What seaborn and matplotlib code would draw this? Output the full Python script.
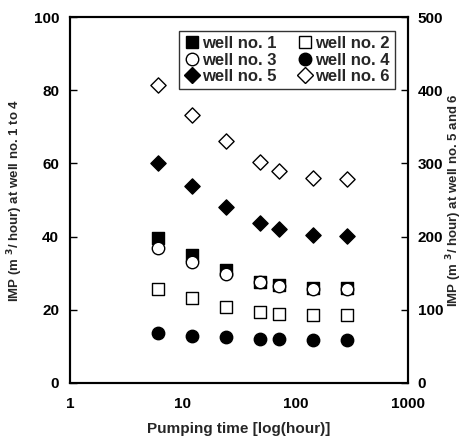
import matplotlib
matplotlib.use("Agg")
import matplotlib.pyplot as plt
import matplotlib.ticker as ticker
from matplotlib.lines import Line2D
import seaborn as sns
import pandas as pd

#%% Data
hours = [6, 12, 24, 48, 72, 144, 288]
well_1 = [39.7, 35.0, 31.0, 27.6, 26.8, 26.0, 26.0]
well_2 = [25.6, 23.1, 20.9, 19.4, 18.9, 18.5, 18.5]
well_3 = [36.8, 33.0, 29.7, 27.5, 26.5, 25.7, 25.7]
well_4 = [13.6, 12.9, 12.5, 12.0, 11.9, 11.7, 11.7]
well_5 = [301, 269, 240, 218, 210, 202, 201]
well_6 = [407, 366, 331, 302, 290, 280, 279]

#%% Style
sns.set_style("white")
plt.rcParams['font.family'] = ['Liberation Sans', 'DejaVu Sans']
plt.rcParams['font.weight'] = 'bold'
plt.rcParams['axes.labelweight'] = 'bold'

fig = plt.figure(figsize=(4.68, 4.42), dpi=100)
ax = fig.add_axes([0.15, 0.1335, 0.722, 0.828])
ax2 = ax.twinx()

# (label, values, marker, filled, axis)
series = [
    ('well no. 1', well_1, 's', True, ax),
    ('well no. 2', well_2, 's', False, ax),
    ('well no. 3', well_3, 'o', False, ax),
    ('well no. 4', well_4, 'o', True, ax),
    ('well no. 5', well_5, 'D', True, ax2),
    ('well no. 6', well_6, 'D', False, ax2),
]

handles = {}
for label, vals, mk, filled, a in series:
    df = pd.DataFrame({'hour': hours, 'imp': vals})
    fc = 'black' if filled else 'white'
    sz = 80 if mk != 'D' else 60
    sns.scatterplot(data=df, x='hour', y='imp', ax=a, marker=mk, s=sz,
                    facecolor=fc, edgecolor='black', linewidth=1.0, zorder=3)
    handles[label] = Line2D([], [], ls='', marker=mk, markersize=9 if mk != 'D' else 8,
                            markerfacecolor=fc, markeredgecolor='black',
                            markeredgewidth=1.0, label=label)

ax.set_xscale('log')
ax.set_xlim(1, 1000)
ax.set_ylim(0, 100)
ax2.set_ylim(0, 500)
ax.set_yticks([0, 20, 40, 60, 80, 100])
ax2.set_yticks([0, 100, 200, 300, 400, 500])
ax.xaxis.set_major_formatter(ticker.FuncFormatter(lambda x, _: f'{int(x)}'))
ax.xaxis.set_minor_locator(ticker.NullLocator())

ax.set_xlabel('Pumping time [log(hour)]', fontsize=11, labelpad=8)
ax.set_ylabel('IMP (m $^3$/ hour) at well no. 1 to 4', fontsize=9.5, labelpad=6)
ax2.set_ylabel('IMP (m $^3$/ hour) at well no. 5 and 6', fontsize=9.5, labelpad=1)

for a in (ax, ax2):
    a.tick_params(direction='in', length=5, width=1, labelsize=11, pad=8, colors='black')
    for s in a.spines.values():
        s.set_linewidth(1.5)
        s.set_color('black')
ax.tick_params(axis='x', pad=10)
ax2.tick_params(axis='y', pad=7)

# row-wise order like the original: 1 2 / 3 4 / 5 6
order = ['well no. 1', 'well no. 3', 'well no. 5', 'well no. 2', 'well no. 4', 'well no. 6']
leg = ax.legend(handles=[handles[k] for k in order], ncol=2, loc='upper right',
                bbox_to_anchor=(0.985, 0.985), frameon=True, fancybox=False,
                fontsize=12, handletextpad=0.1, columnspacing=1.2,
                labelspacing=0.1, borderpad=0.3, handlelength=1.0)
leg.get_frame().set_edgecolor('black')
leg.get_frame().set_linewidth(1.0)
leg.set_zorder(5)

fig.savefig('out.png', dpi=100)
